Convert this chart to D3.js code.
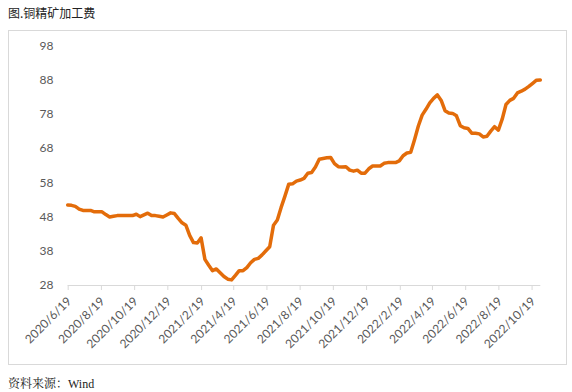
<!DOCTYPE html>
<html><head><meta charset="utf-8">
<script src="https://cdn.jsdelivr.net/npm/d3@7"></script>
<style>body{margin:0;background:#fff;}svg{display:block;}</style>
</head><body>
<svg id="c" width="572" height="392"></svg>
<script>
const title = "图.铜精矿加工费";
const source = "资料来源：Wind";
const startDate = "2020-06-19"; // weekly data, Fridays
const values = [
51.4,51.3,51.0,50.2,49.8,49.8,49.8,49.4,49.4,49.4,
48.6,47.9,48.1,48.3,48.3,48.3,48.3,48.3,48.7,48.0,
48.5,49.0,48.3,48.3,48.1,47.9,48.5,49.1,48.9,47.5,
46.2,45.5,42.5,40.4,40.3,41.8,35.5,33.8,32.2,32.7,
31.6,30.5,29.7,29.5,30.8,32.2,32.2,33.1,34.5,35.5,
35.8,36.8,38.0,39.2,45.5,47.0,50.7,54.0,57.5,57.6,
58.4,58.7,59.2,60.7,60.9,62.5,64.8,65.0,65.2,65.3,
63.5,62.6,62.5,62.6,61.6,61.3,61.6,60.7,60.7,62.0,
62.8,62.8,62.8,63.6,63.8,63.8,63.8,64.3,65.8,66.6,
66.8,70.5,74.5,77.7,79.4,81.3,82.6,83.6,82.0,79.0,
78.3,78.2,77.5,74.6,74.0,73.8,72.4,72.4,72.2,71.3,
71.5,73.0,74.3,73.3,76.5,80.8,82.0,82.6,84.2,84.7,
85.3,86.1,87.0,87.9,88.0];
const yTicks = [28,38,48,58,68,78,88,98];
const xTickLabels = ["2020/6/19","2020/8/19","2020/10/19","2020/12/19","2021/2/19","2021/4/19","2021/6/19","2021/8/19","2021/10/19","2021/12/19","2022/2/19","2022/4/19","2022/6/19","2022/8/19","2022/10/19"];

const parse = d3.timeParse("%Y-%m-%d");
const t0 = parse(startDate);
const data = values.map((v,i)=>({date:d3.timeDay.offset(t0, i*7), value:v}));
const tickDates = xTickLabels.map(s=>{const [y,m,d]=s.split("/").map(Number);return new Date(y,m-1,d);});

const svg = d3.select("#c");
svg.append("rect").attr("x",8.5).attr("y",30.5).attr("width",558).attr("height",334)
  .attr("fill","none").attr("stroke","#d9d9d9");

svg.append("text").attr("x",8).attr("y",18).text(title)
  .attr("font-family","'Noto Sans CJK SC'").attr("font-size",12).attr("fill","#222");
svg.append("text").attr("x",8).attr("y",388).text(source)
  .attr("font-family","'Liberation Serif','Noto Serif CJK SC','Noto Sans CJK SC'").attr("font-size",12).attr("fill","#222");

const x = d3.scaleTime().domain([t0, data[data.length-1].date]).range([67.7, 540.3]);
const y = d3.scaleLinear().domain([28,98]).range([285,45.7]);

// y labels
svg.append("g").selectAll("text").data(yTicks).join("text")
  .attr("x",53.5).attr("y",d=>y(d)).attr("dy","0.35em").attr("text-anchor","end")
  .attr("font-family","Lato, 'Open Sans', sans-serif").attr("font-size",12).attr("fill","#595959")
  .text(d=>d);

// x axis
const xAxis = d3.axisBottom(x).tickValues(tickDates).tickSize(5).tickFormat((d,i)=>xTickLabels[i]).tickSizeOuter(0);
const gx = svg.append("g").attr("transform","translate(0,285)").call(xAxis);
gx.select(".domain").attr("stroke","#d9d9d9").attr("d",`M${x.range()[0]},0.5H${x.range()[1]}`);
gx.selectAll(".tick line").attr("stroke","#d9d9d9");
gx.selectAll(".tick text")
  .attr("font-family","Lato, 'Open Sans', sans-serif").attr("font-size",12).attr("fill","#595959")
  .attr("text-anchor","end").attr("dy",0).attr("y",0)
  .attr("transform","translate(4,17) rotate(-45)");

// line
svg.append("path").datum(data)
  .attr("fill","none").attr("stroke","#e36c0a").attr("stroke-width",3.5)
  .attr("stroke-linejoin","round").attr("stroke-linecap","round")
  .attr("d", d3.line().x(d=>x(d.date)).y(d=>y(d.value)));
</script>
</body></html>
